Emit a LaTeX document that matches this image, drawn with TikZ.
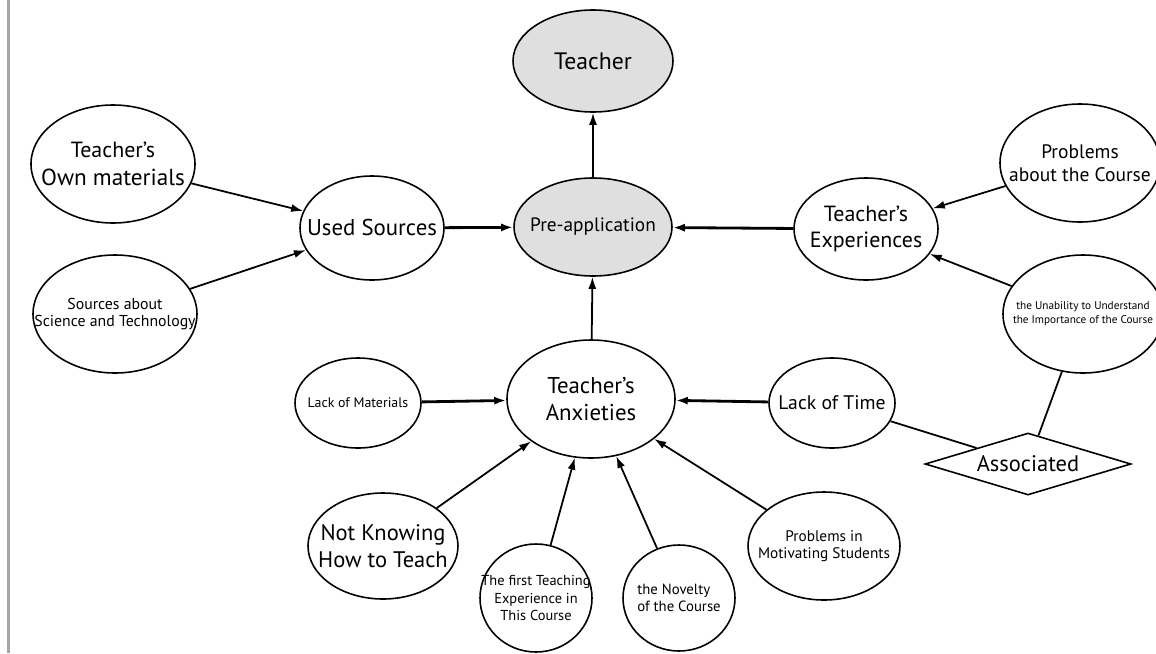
\documentclass[tikz,border=0pt]{standalone}
\usepackage{fontspec}
\setmainfont{PT Sans}
\usetikzlibrary{shapes.geometric,arrows.meta}
\begin{document}
\begin{tikzpicture}[x=0.2mm,y=-0.2mm,
 bubble/.style={ellipse,draw,line width=0.9pt,inner sep=0pt},
 shaded/.style={bubble,fill=gray!25},
 esize/.style 2 args={minimum width=#1*0.4mm,minimum height=#2*0.4mm},
 fs/.style 2 args={font=\fontsize{#1}{#2}\selectfont},
 every label/.style={align=center,inner sep=0pt},
 link/.style={line width=1pt,-{Latex[length=2.4mm,width=1.6mm]}},
 boldlink/.style={link,line width=1.6pt},
 plain/.style={line width=1pt}]
 \useasboundingbox (0,0) rectangle (1156,653);
 \draw[gray!70,line width=0.6mm] (8,0) -- (8,653);
 \node[shaded,esize={80}{51},label={[fs={13.5}{15}]center:Teacher}] (teacher) at (593,61) {};
 \node[shaded,esize={79}{49},label={[fs={11}{13}]center:Pre-application}] (pre) at (593,227) {};
 \node[bubble,esize={82}{59},label={[fs={12.5}{16}]center:Teacher’s\\{\fontsize{13.2}{16}\selectfont Own materials}}] (own) at (113,164) {};
 \node[bubble,esize={82}{59},label={[fs={9}{9.4}]center:Sources about\\Science and Technology}] (src) at (115,314) {};
 \node[bubble,esize={72}{52},label={[fs={13}{15}]center:Used Sources}] (used) at (372,228) {};
 \node[bubble,esize={72}{51},label={[fs={12.5}{15}]center:Teacher’s\\Experiences}] (exp) at (866,229) {};
 \node[bubble,esize={80}{59},label={[fs={11.1}{13}]center:Problems\\about the Course}] (prob) at (1080,163) {};
 \node[bubble,esize={80}{59},label={[fs={6.4}{8}]center:the Unability to Understand\\the Importance of the Course}] (unab) at (1083,314) {};
 \node[bubble,esize={84}{59},label={[fs={13}{15.5}]center:Teacher’s\\Anxieties}] (anx) at (591,399) {};
 \node[bubble,esize={63}{45},label={[fs={7.9}{9}]center:Lack of Materials}] (lackmat) at (358,403) {};
 \node[bubble,esize={63}{45},label={[fs={11.2}{12}]center:Lack of Time}] (lacktime) at (832,403) {};
 \node[diamond,draw,line width=0.9pt,inner sep=0pt,minimum width=41.2mm,minimum height=12.4mm,
  label={[fs={12.8}{14}]center:Associated}] (assoc) at (1028,464) {};
 \node[bubble,esize={75}{53},label={[fs={12.8}{15}]center:Not Knowing\\How to Teach}] (notknow) at (383,546) {};
 \node[bubble,esize={56}{54},label={[fs={8.2}{9.7}]center:The first Teaching\\Experience in\\This Course}] (first) at (536,598) {};
 \node[bubble,esize={56}{53},label={[fs={8.4}{9.7},align=left]center:the Novelty\\of the Course}] (novelty) at (679,598) {};
 \node[bubble,esize={76}{54},label={[fs={8.7}{9.7}]center:Problems in\\Motivating Students}] (motiv) at (824,546) {};
 \draw[link] (own) -- (used);
 \draw[link] (src) -- (used);
 \draw[boldlink] (used) -- (pre);
 \draw[boldlink] (exp) -- (pre);
 \draw[link] (prob) -- (exp);
 \draw[link] (unab) -- (exp);
 \draw[link] (pre) -- (teacher);
 \draw[link] (anx) -- (pre);
 \draw[boldlink] (lackmat) -- (anx);
 \draw[boldlink] (lacktime) -- (anx);
 \draw[link] (notknow) -- (anx);
 \draw[link] (first) -- (anx);
 \draw[link] (novelty) -- (anx);
 \draw[link] (motiv) -- (anx);
 \draw[plain] (lacktime) -- (assoc);
 \draw[plain] (unab) -- (assoc);
\end{tikzpicture}
\end{document}
